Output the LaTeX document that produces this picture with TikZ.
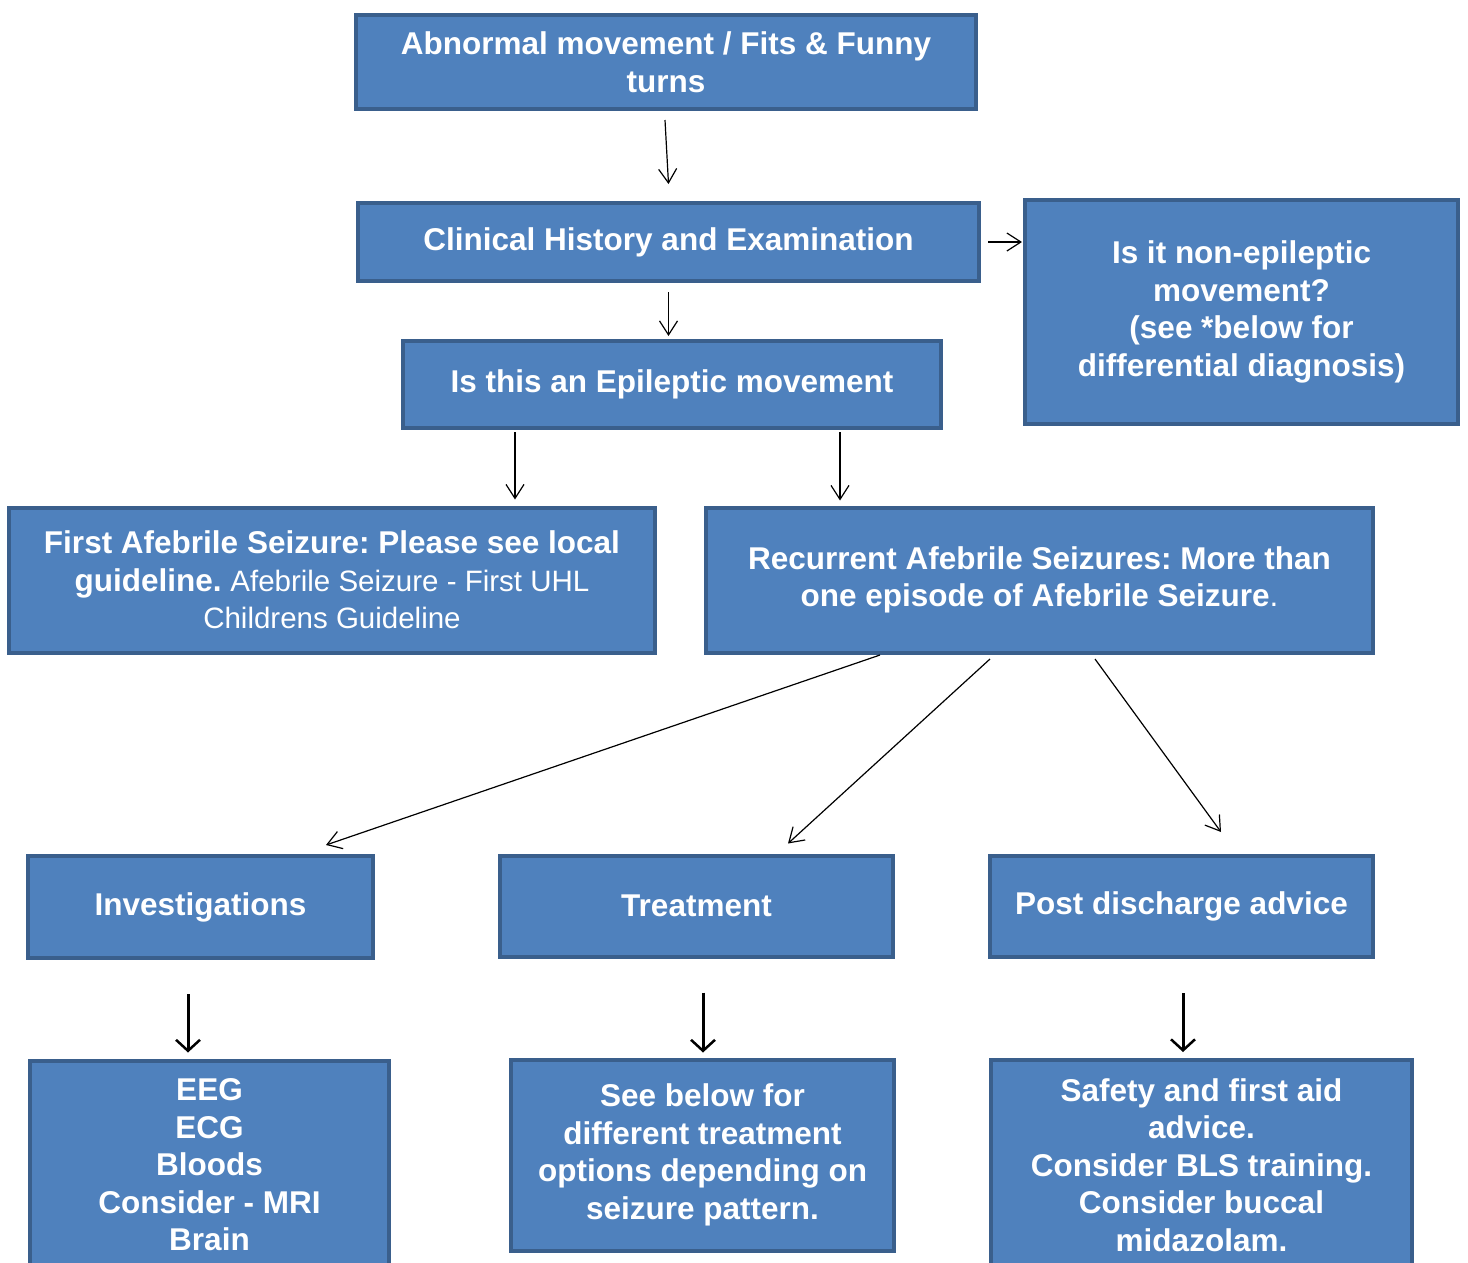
\documentclass[tikz,border=0pt]{standalone}
\usepackage{fontspec}
\setmainfont{Liberation Sans}
\usetikzlibrary{calc,arrows.meta}
\definecolor{boxfill}{HTML}{4F81BD}
\definecolor{boxline}{HTML}{3A5F8C}
\frenchspacing
\begin{document}
\begin{tikzpicture}[x=1pt,y=-1pt,
  box/.style={draw=boxline, fill=boxfill, line width=4pt, text=white,
    font=\fontsize{31.5}{37.5}\selectfont\bfseries\frenchspacing, align=center, inner sep=0pt},
  thinarr/.style={line width=1.2pt, -{Straight Barb[length=14pt,width=18pt,line width=1.2pt]}},
  thickarr/.style={line width=3pt, -{Straight Barb[length=11pt,width=24pt,line width=2.5pt]}}]
\useasboundingbox (0,0) rectangle (1468,1262);
\begin{scope}
\clip (0,0) rectangle (1468,1262);
\node[box, minimum width=620pt, minimum height=94pt] (abn) at (666,62) {Abnormal movement / Fits \& Funny\\turns};
\node[box, minimum width=621pt, minimum height=78pt] (clin) at (668.5,242) {Clinical History and Examination};
\node[box, minimum width=433pt, minimum height=224pt] (non) at (1241.5,312) {Is it non-epileptic\\movement?\\(see *below for\\differential diagnosis)};
\node[box, minimum width=538pt, minimum height=87pt] (epi) at (672,384.5) {Is this an Epileptic movement};
\node[box, minimum width=646pt, minimum height=145pt] (first) at (332,580) {First Afebrile Seizure: Please see local\\guideline. {\mdseries\fontsize{29.5}{37.5}\selectfont Afebrile Seizure - First UHL}\\{\mdseries\fontsize{29.5}{34}\selectfont Childrens Guideline}};
\node[box, minimum width=667pt, minimum height=145pt] (rec) at (1039.5,580) {Recurrent Afebrile Seizures: More than\\one episode of Afebrile Seizure{\mdseries .}};
\node[box, minimum width=345pt, minimum height=102pt] (inv) at (200.5,907) {Investigations};
\node[box, minimum width=393pt, minimum height=101pt] (treat) at (696.5,906) {Treatment};
\node[box, minimum width=383pt, minimum height=101pt] (post) at (1181.5,906.5) {Post discharge advice};
\node[box, minimum width=359pt, minimum height=209pt] (eeg) at (209.5,1165) {EEG\\ECG\\Bloods\\Consider - MRI\\Brain};
\node[box, minimum width=383pt, minimum height=191pt] (see) at (702.5,1155) {See below for\\different treatment\\options depending on\\seizure pattern.};
\node[box, minimum width=421pt, minimum height=210pt] (safe) at (1201.5,1165) {Safety and first aid\\advice.\\Consider BLS training.\\Consider buccal\\midazolam.};
\end{scope}
\coordinate (r1) at (880,655);
\coordinate (r2) at (990,659);
\coordinate (r3) at (1095,659);
\draw[thinarr] ($(abn.south)+(-1,9)$) -- ($(clin.north)+(0,-17)$);
\draw[thinarr] ($(clin.south)+(0,9)$) -- ($(clin.south |- epi.north)+(0,-3)$);
\draw[thinarr] ($(clin.east)+(7,0)$) -- ($(non.west |- clin.east)+(-1,0)$);
\draw[thinarr] ($(epi.south -| 515,0)+(0,2)$) -- ($(first.north -| 515,0)+(0,-6)$);
\draw[thinarr] ($(epi.south -| 840,0)+(0,2)$) -- ($(rec.north -| 840,0)+(0,-5)$);
\draw[thinarr] (r1) -- ($(inv.north)+(125.5,-9)$);
\draw[thinarr] (r2) -- ($(treat.north)+(91.5,-10)$);
\draw[thinarr] (r3) -- ($(post.north)+(39.5,-22)$);
\draw[thickarr] ($(inv.south)+(-12.5,34)$) -- ($(eeg.north)+(-21.5,-6)$);
\draw[thickarr] ($(treat.south)+(6.5,34)$) -- ($(see.north)+(0.5,-5)$);
\draw[thickarr] ($(post.south)+(1.5,34)$) -- ($(safe.north)+(-18.5,-6)$);
\end{tikzpicture}
\end{document}
